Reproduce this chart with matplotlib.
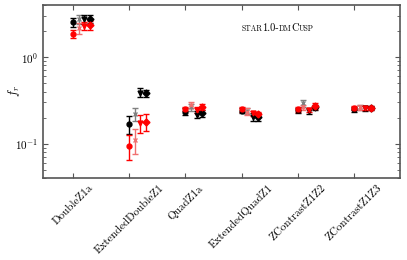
import numpy as np
import matplotlib
matplotlib.use("Agg")
import matplotlib.pyplot as plt

plt.rcParams['font.family'] = ['cmr10', 'DejaVu Serif']
plt.rcParams['mathtext.fontset'] = 'cm'
plt.rcParams['axes.formatter.use_mathtext'] = True
plt.rcParams['axes.unicode_minus'] = False

categories = ['DoubleZ1a', 'ExtendedDoubleZ1', 'QuadZ1a', 'ExtendedQuadZ1',
              'ZContrastZ1Z2', 'ZContrastZ1Z3']

# black set
blk_circle = [2.55, 0.168, 0.235, 0.240, 0.242, 0.250]
blk_cross = [2.73, 0.220, 0.262, 0.240, 0.293, 0.262]
blk_tri = [2.73, 0.389, 0.216, 0.205, 0.240, 0.255]
blk_diamond = [2.78, 0.382, 0.225, 0.205, 0.262, 0.260]
blk_circle_err = [0.30, 0.040, 0.020, 0.015, 0.015, 0.015]
blk_cross_err = [0.30, 0.035, 0.025, 0.020, 0.025, 0.020]
blk_tri_err = [0.30, 0.045, 0.020, 0.020, 0.020, 0.015]
blk_diamond_err = [0.30, 0.040, 0.020, 0.020, 0.020, 0.015]

# red set
red_circle = [1.84, 0.095, 0.252, 0.248, 0.250, 0.260]
red_cross = [2.15, 0.111, 0.281, 0.235, 0.262, 0.262]
red_tri = [2.29, 0.173, 0.246, 0.225, 0.246, 0.260]
red_diamond = [2.33, 0.180, 0.266, 0.220, 0.273, 0.260]
red_circle_err = [0.20, 0.030, 0.015, 0.015, 0.015, 0.015]
red_cross_err = [0.30, 0.035, 0.025, 0.020, 0.020, 0.020]
red_tri_err = [0.25, 0.040, 0.020, 0.015, 0.015, 0.015]
red_diamond_err = [0.25, 0.040, 0.020, 0.015, 0.020, 0.015]

fig = plt.figure(figsize=(4.07, 2.6), dpi=100)
ax = fig.add_axes([0.106, 0.315, 0.877, 0.666])

x = np.arange(len(categories))
series = [
    (blk_circle, blk_circle_err, 'o', 'black', 0.0),
    (blk_cross, blk_cross_err, 'x', 'grey', 0.1),
    (blk_tri, blk_tri_err, 'v', 'black', 0.2),
    (blk_diamond, blk_diamond_err, 'D', 'black', 0.3),
    (red_circle, red_circle_err, 'o', 'red', 0.0),
    (red_cross, red_cross_err, 'x', '#f07070', 0.1),
    (red_tri, red_tri_err, 'v', 'red', 0.2),
    (red_diamond, red_diamond_err, 'D', 'red', 0.3),
]
for vals, err, mk, col, off in series:
    ax.errorbar(x + off, vals, yerr=err, fmt=mk, color=col, ecolor=col,
                markersize=3.5, elinewidth=1, capsize=2, capthick=1,
                linestyle='none')

ax.set_yscale('log')
ax.set_ylim(0.04, 4.0)
ax.set_xlim(-0.53, 5.82)
ax.set_xticks(x)
ax.set_xticklabels(categories, rotation=45, fontsize=8)
ax.set_ylabel('$f_r$', fontsize=9)
ax.yaxis.set_label_coords(-0.06, 0.5)
ax.tick_params(which='both', direction='in', top=True, right=True, labelsize=8)
for s in ax.spines.values():
    s.set_color('#555555')
    s.set_linewidth(1.2)
ax.tick_params(which='both', color='#555555')

# small-caps style title built from pieces
pieces = [('STAR', 5.5), ('1.0-', 7.5), ('DM', 5.5), ('C', 7.5), ('USP', 5.5)]
t = ax.text(0.555, 0.85, pieces[0][0], transform=ax.transAxes, fontsize=pieces[0][1],
            va='baseline')
for txt, fs in pieces[1:]:
    t = ax.annotate(txt, xy=(1, 0), xycoords=t, fontsize=fs, va='bottom')

fig.savefig('out.png', dpi=100)
